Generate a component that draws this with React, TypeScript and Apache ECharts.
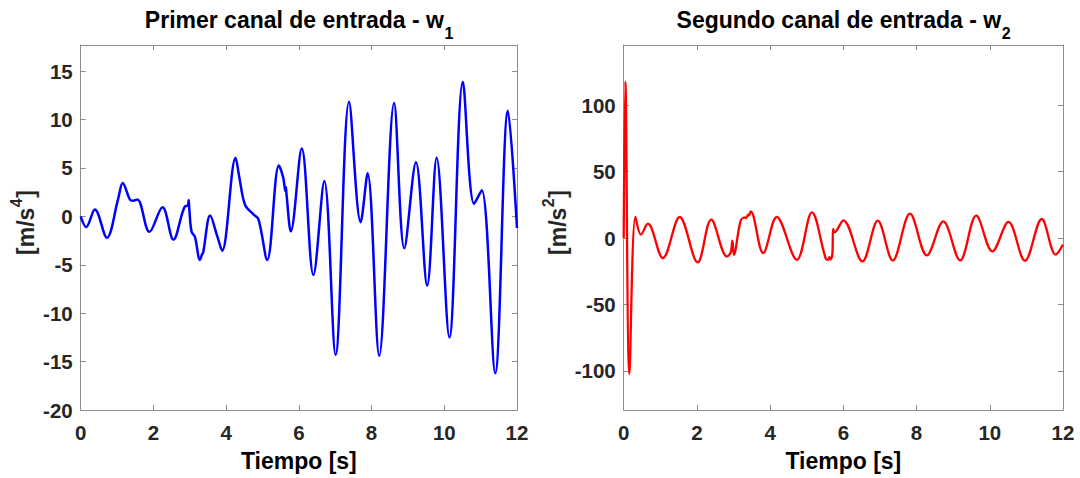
import React, { useEffect, useRef } from "react";
import * as echarts from "echarts";

// First input channel w1 [m/s^4] versus time [s]
const w1Time = [0, 0.15, 0.39, 0.72, 1.03, 1.155, 1.36, 1.44, 1.56, 1.89, 2.25, 2.55, 2.87, 2.94, 2.97, 2.99, 3.05, 3.14, 3.28, 3.33, 3.37, 3.56, 3.76, 3.89, 4.26, 4.36, 4.52, 4.75, 4.89, 5.13, 5.45, 5.57, 5.63, 5.645, 5.66, 5.78, 6.08, 6.4, 6.7, 7.01, 7.38, 7.7, 7.89, 8.21, 8.62, 8.9, 9.22, 9.53, 9.79, 10.14, 10.51, 10.82, 11.03, 11.4, 11.75, 12.0];
const w1Value = [0, -1.1, 0.7, -2.2, 1.8, 3.45, 1.7, 1.62, 1.75, -1.6, 0.95, -2.4, 1.05, 1.1, 1.7, 0.6, -1.6, -2.1, -4.5, -4.0, -3.7, 0.1, -2.1, -3.55, 6.05, 4.1, 1.2, 0.2, -0.3, -4.5, 5.25, 4.0, 2.6, 3.0, 2.3, -1.55, 7.0, -6.05, 3.65, -14.3, 11.85, -0.6, 4.45, -14.4, 11.7, -3.3, 5.6, -7.15, 6.05, -12.5, 13.9, 1.3, 2.7, -16.2, 10.9, -1.2];

// Second input channel w2 [m/s^2] versus time [s]
const w2Time = [0, 0.045, 0.155, 0.32, 0.47, 0.66, 1.07, 1.53, 2.02, 2.39, 2.82, 2.92, 2.97, 3.01, 3.19, 3.3, 3.34, 3.4, 3.42, 3.47, 3.81, 4.18, 4.73, 5.14, 5.52, 5.59, 5.62, 5.65, 5.7, 5.72, 5.76, 6.0, 6.52, 6.94, 7.35, 7.82, 8.28, 8.73, 9.19, 9.63, 10.07, 10.51, 10.96, 11.42, 11.8, 12.0];
const w2Value = [0, 117.6, -102.3, 15.8, 2.5, 10.8, -15.1, 15.8, -18.4, 13.8, -13.9, -11, -2, -12.6, 12.5, 15.5, 15, 17.5, 17, 20, -11.3, 15.8, -16.4, 19.3, -15.5, -16.4, -14.5, -16, -12, 6.8, 4.3, 13.3, -17.6, 13, -16.9, 18.3, -13.1, 12.5, -16.9, 16.8, -10.1, 12.1, -17.1, 14.3, -12.5, -5];

// Axis limits
const timeRange = [0, 12];
const timeStep = 2;
const w1Range = [-20, 17.7];
const w1Step = 5;
const w2Range = [-129.4, 145.2];

const titles = ["Primer canal de entrada - w", "Segundo canal de entrada - w"];
const titleSubs = ["1", "2"];
const xName = "Tiempo [s]";
const yUnits = ["[m/s", "[m/s"];
const yPowers = ["4", "2"];
const yClose = "]";

const FONT = "'Liberation Sans', Arial, Helvetica, sans-serif";
const AXIS_GRAY = "#8c8c8c";
const TEXT = "#262626";
const LABEL_SIZE = 23;
const SMALL_SIZE = 16;

const pairs = (xs: number[], ys: number[]) => xs.map((x, i) => [x, ys[i]]);

// Text width in px for a bold font of the given size
const measurer = typeof document !== "undefined" ? document.createElement("canvas").getContext("2d") : null;
function textWidth(s: string, size: number) {
  if (!measurer) return s.length * size * 0.55;
  measurer.font = `bold ${size}px ${FONT}`;
  return measurer.measureText(s).width;
}

export default function App() {
  const ref = useRef<HTMLDivElement>(null);

  useEffect(() => {
    if (!ref.current) return;
    const chart = echarts.init(ref.current, undefined, { renderer: "svg" });

    const grids = [
      { left: 80.7, top: 45, width: 436.3, height: 365 },
      { left: 623.7, top: 45, width: 439.3, height: 365 },
    ];

    const tickLabel = {
      fontFamily: FONT,
      fontSize: 20.5,
      fontWeight: "bold" as const,
      color: TEXT,
    };
    const line = { show: true, onZero: false, lineStyle: { color: AXIS_GRAY, width: 1 } };
    const tick = { show: true, inside: true, length: 5, lineStyle: { color: AXIS_GRAY, width: 1 } };

    const xAxes: any[] = [];
    const yAxes: any[] = [];
    grids.forEach((_, g) => {
      ["bottom", "top"].forEach((pos) => {
        xAxes.push({
          type: "value",
          gridIndex: g,
          position: pos,
          min: timeRange[0],
          max: timeRange[1],
          interval: timeStep,
          axisLine: line,
          axisTick: tick,
          splitLine: { show: false },
          axisLabel: pos === "bottom" ? { ...tickLabel, margin: 12 } : { show: false },
        });
      });
      ["left", "right"].forEach((pos) => {
        const base: any = {
          type: "value",
          gridIndex: g,
          position: pos,
          axisLine: line,
          axisTick: tick,
          splitLine: { show: false },
          axisLabel:
            pos === "left"
              ? { ...tickLabel, margin: 8, showMinLabel: g === 0, showMaxLabel: false }
              : { show: false },
        };
        if (g === 0) {
          base.min = w1Range[0];
          base.max = w1Range[1];
          base.interval = w1Step;
        } else {
          base.min = w2Range[0];
          base.max = w2Range[1];
          base.splitNumber = 5;
        }
        yAxes.push(base);
      });
    });

    const txt = (text: string, size: number, fill: string, x: number, y: number) => ({
      type: "text",
      x,
      y,
      style: {
        text,
        fontFamily: FONT,
        fontSize: size,
        fontWeight: "bold",
        fill,
        align: "left",
        verticalAlign: "middle",
      },
    });

    const graphics: any[] = [];
    grids.forEach((gr, g) => {
      const cx = gr.left + gr.width / 2;

      // title with subscript
      const mw = textWidth(titles[g], LABEL_SIZE);
      const sw = textWidth(titleSubs[g], SMALL_SIZE);
      const x0 = cx - (mw + sw) / 2;
      graphics.push(txt(titles[g], LABEL_SIZE, "#000", x0, 20));
      graphics.push(txt(titleSubs[g], SMALL_SIZE, "#000", x0 + mw + 0.5, 33));

      // x axis name
      graphics.push({
        type: "text",
        x: cx,
        y: 461,
        style: {
          text: xName,
          fontFamily: FONT,
          fontSize: LABEL_SIZE,
          fontWeight: "bold",
          fill: "#000",
          align: "center",
          verticalAlign: "middle",
        },
      });

      // y axis name with superscript, rotated
      const uw = textWidth(yUnits[g], LABEL_SIZE);
      const pw = textWidth(yPowers[g], SMALL_SIZE);
      const cw = textWidth(yClose, LABEL_SIZE);
      const total = uw + pw + cw;
      const lx = -total / 2;
      graphics.push({
        type: "group",
        x: g === 0 ? 26 : 558,
        y: 223,
        rotation: Math.PI / 2,
        children: [
          txt(yUnits[g], LABEL_SIZE, TEXT, lx, 0),
          txt(yPowers[g], SMALL_SIZE, TEXT, lx + uw + 0.5, -9.5),
          txt(yClose, LABEL_SIZE, TEXT, lx + uw + pw + 1, 0),
        ],
      });
    });

    chart.setOption({
      animation: false,
      backgroundColor: "#ffffff",
      grid: grids,
      xAxis: xAxes,
      yAxis: yAxes,
      graphic: graphics,
      series: [
        {
          type: "line",
          xAxisIndex: 0,
          yAxisIndex: 0,
          data: pairs(w1Time, w1Value),
          showSymbol: false,
          smooth: 0.35,
          lineStyle: { color: "#0000ff", width: 2.5 },
          itemStyle: { color: "#0000ff" },
        },
        {
          type: "line",
          xAxisIndex: 2,
          yAxisIndex: 2,
          data: pairs(w2Time, w2Value),
          showSymbol: false,
          smooth: 0.35,
          lineStyle: { color: "#ff0000", width: 2.3 },
          itemStyle: { color: "#ff0000" },
        },
      ],
    });

    return () => chart.dispose();
  }, []);

  return (
    <div
      ref={ref}
      style={{ position: "absolute", left: 0, top: 0, width: 1080, height: 478, background: "#fff" }}
    />
  );
}
